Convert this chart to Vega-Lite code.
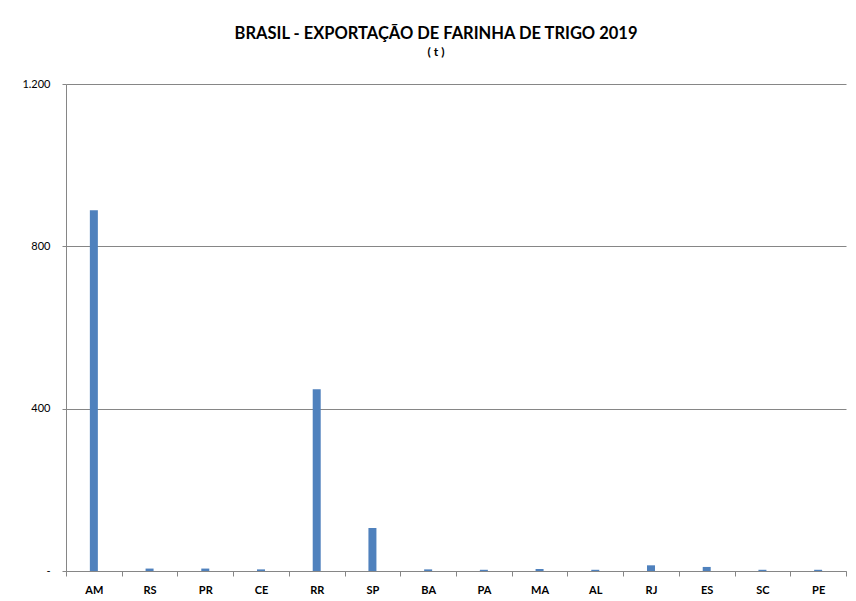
{
  "$schema": "https://vega.github.io/schema/vega-lite/v6.json",
  "width": 780,
  "height": 487,
  "autosize": {"type": "none"},
  "padding": {"left": 66, "top": 84, "right": 10, "bottom": 30},
  "background": "white",
  "title": {
    "text": "BRASIL - EXPORTAÇÃO DE FARINHA DE TRIGO 2019",
    "subtitle": "( t )",
    "font": "Lato",
    "fontSize": 16.5,
    "fontWeight": "bold",
    "color": "#000000",
    "subtitleFont": "Lato",
    "subtitleFontSize": 12,
    "subtitleFontWeight": "bold",
    "subtitleColor": "#000000",
    "subtitlePadding": 5,
    "anchor": "middle",
    "dx": -20,
    "offset": 20
  },
  "data": {
    "values": [
      {"uf": "AM", "t": 889},
      {"uf": "RS", "t": 6},
      {"uf": "PR", "t": 6},
      {"uf": "CE", "t": 4},
      {"uf": "RR", "t": 448},
      {"uf": "SP", "t": 106},
      {"uf": "BA", "t": 4},
      {"uf": "PA", "t": 3},
      {"uf": "MA", "t": 5},
      {"uf": "AL", "t": 3},
      {"uf": "RJ", "t": 14},
      {"uf": "ES", "t": 10},
      {"uf": "SC", "t": 3},
      {"uf": "PE", "t": 3}
    ]
  },
  "mark": {"type": "bar", "size": 8, "color": "#4F81BD"},
  "encoding": {
    "x": {
      "field": "uf",
      "type": "nominal",
      "sort": null,
      "title": null,
      "scale": {"paddingInner": 0, "paddingOuter": 0},
      "axis": {
        "labelAngle": 0,
        "labelFont": "Lato",
        "labelFontSize": 11,
        "labelFontWeight": "bold",
        "labelColor": "#000000",
        "labelPadding": 8,
        "domainColor": "#868686",
        "tickColor": "#868686",
        "tickBand": "extent",
        "tickSize": 5,
        "grid": false
      }
    },
    "y": {
      "field": "t",
      "type": "quantitative",
      "title": null,
      "scale": {"domain": [0, 1200], "nice": false},
      "axis": {
        "values": [0, 400, 800, 1200],
        "labelExpr": "datum.value == 0 ? '-' : replace(format(datum.value, ','), ',', '.')",
        "labelFont": "Lato",
        "labelFontSize": 11,
        "labelColor": "#000000",
        "labelPadding": 12,
        "domainColor": "#868686",
        "tickColor": "#868686",
        "tickSize": 4,
        "grid": true,
        "gridColor": "#868686",
        "gridWidth": 1
      }
    }
  },
  "config": {
    "view": {"stroke": null}
  }
}
